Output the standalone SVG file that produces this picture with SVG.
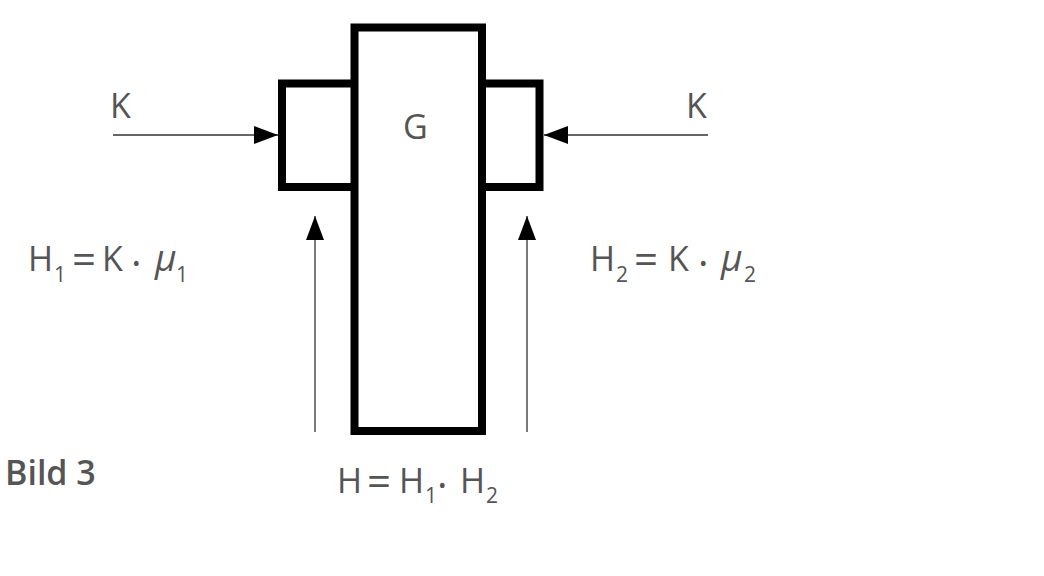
<svg xmlns="http://www.w3.org/2000/svg" width="1044" height="576" viewBox="0 0 1044 576">
<style>
.body{fill:none;stroke:#000;stroke-width:8}
.con{stroke:#333;stroke-width:1.3;fill:none}
.t{font-family:"Open Sans","Noto Sans",sans-serif;font-size:34px;fill:#555}
.s{font-size:21px}
.e{font-size:42px}
.d{font-size:40px}
.i{font-style:italic;font-size:37px}
</style>
<defs>
<marker id="ah" viewBox="0 0 24 18" refX="24" refY="9" markerWidth="24" markerHeight="18" markerUnits="userSpaceOnUse" orient="auto">
<path d="M0,0 L24,9 L0,18 z" fill="#000"/>
</marker>
</defs>
<rect width="1044" height="576" fill="#fff"/>
<g id="left-jaw"><path class="body" d="M354.5,83.5 H282 V187 H354.5"/></g>
<g id="right-jaw"><path class="body" d="M482,83.5 H539.5 V187 H482"/></g>
<g id="G"><rect class="body" x="354.5" y="27.5" width="127.5" height="403.5"/>
<text class="t" x="403" y="139">G</text></g>
<g id="connectors">
<line class="con" x1="113" y1="135" x2="278" y2="135" marker-end="url(#ah)"/>
<line class="con" x1="708" y1="135" x2="544" y2="135" marker-end="url(#ah)"/>
<line class="con" x1="315" y1="432" x2="315" y2="216" marker-end="url(#ah)"/>
<line class="con" x1="527" y1="432" x2="527" y2="216" marker-end="url(#ah)"/>
</g>
<g id="labels">
<text class="t" x="110" y="118">K</text>
<text class="t" x="686" y="118">K</text>
<text class="t" y="271"><tspan x="28">H</tspan><tspan class="s" x="54" y="281.5">1</tspan><tspan class="e" x="72" y="274">=</tspan><tspan x="102" y="271">K</tspan><tspan class="d" x="131" y="277">·</tspan><tspan class="i" x="155" y="271">μ</tspan><tspan class="s" x="176" y="281.5">1</tspan></text>
<text class="t" y="271"><tspan x="590">H</tspan><tspan class="s" x="616" y="281.5">2</tspan><tspan class="e" x="634" y="274">=</tspan><tspan x="668" y="271">K</tspan><tspan class="d" x="698" y="277">·</tspan><tspan class="i" x="721" y="271">μ</tspan><tspan class="s" x="744" y="281.5">2</tspan></text>
<text class="t" y="493"><tspan x="337">H</tspan><tspan class="e" x="367" y="496">=</tspan><tspan x="399" y="493">H</tspan><tspan class="s" x="425" y="503">1</tspan><tspan class="d" x="437" y="499">·</tspan><tspan x="460" y="493">H</tspan><tspan class="s" x="486" y="503">2</tspan></text>
<text class="t" x="5" y="485" style="font-weight:600">Bild 3</text>
</g>
</svg>
